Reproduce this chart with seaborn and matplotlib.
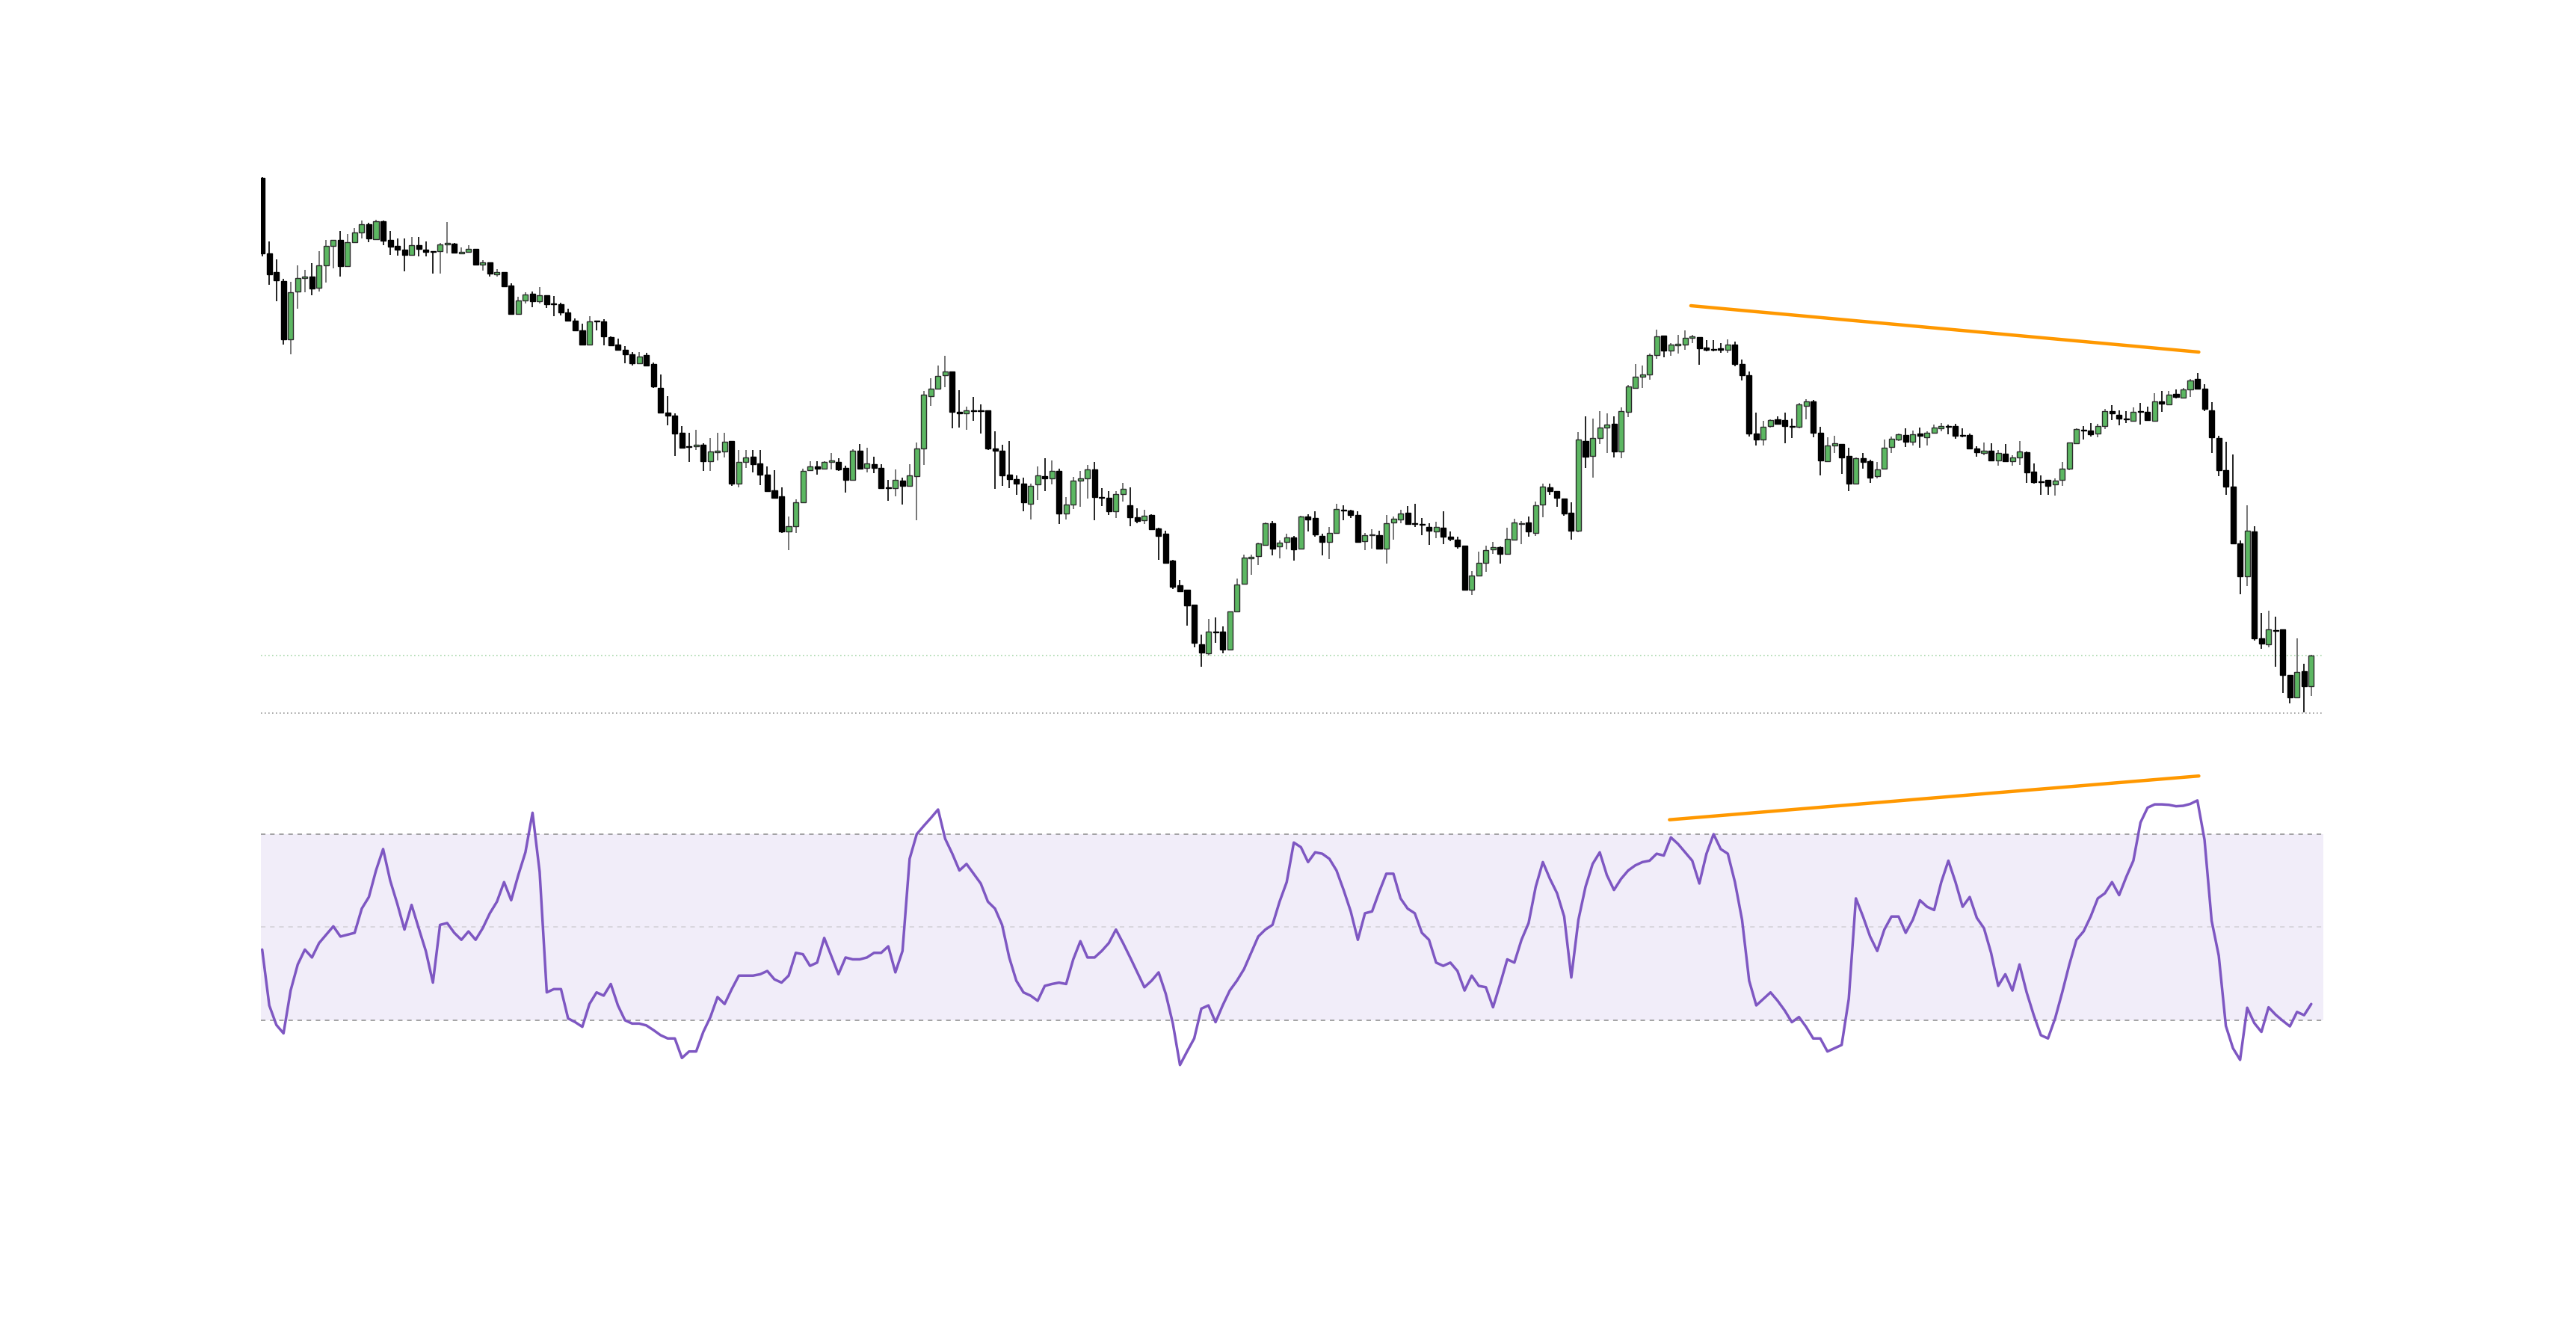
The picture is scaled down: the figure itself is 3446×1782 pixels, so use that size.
import numpy as np
import pandas as pd
import matplotlib
matplotlib.use("Agg")
import matplotlib.pyplot as plt
import seaborn as sns

# ---------------- data ----------------
opens = [76.17, 66.1, 63.57, 62.43, 54.6, 60.97, 62.77, 63.0, 61.53, 64.5,
         67.07, 67.9, 64.4, 67.57, 68.93, 70.0, 68.03, 70.43, 67.9, 67.07,
         66.57, 65.9, 67.17, 66.63, 66.4, 66.37, 67.27, 67.43, 66.1, 66.27,
         66.73, 64.6, 64.9, 63.27, 63.57, 61.77, 57.97, 59.83, 60.73, 59.73,
         60.5, 59.4, 59.33, 58.17, 57.1, 55.8, 53.93, 57.1, 57.03, 54.93,
         53.87, 53.23, 52.6, 51.4, 52.53, 51.33, 48.1, 44.83, 44.43, 42.07,
         40.27, 40.27, 40.53, 38.3, 39.5, 39.57, 41.0, 35.3, 38.17, 38.9,
         38.0, 36.5, 34.43, 33.6, 28.93, 29.6, 32.83, 37.07, 37.6, 37.27,
         38.17, 38.23, 37.4, 35.77, 39.67, 37.37, 37.87, 37.37, 34.8, 34.73,
         35.7, 34.97, 36.27, 40.0, 47.0, 48.03, 49.77, 50.3, 44.93, 44.67,
         45.13, 45.1, 45.1, 39.97, 39.67, 36.47, 35.87, 35.27, 32.57, 35.17,
         36.3, 35.97, 37.0, 31.27, 32.5, 35.67, 35.97, 37.17, 33.47, 33.37,
         31.63, 33.93, 32.43, 30.77, 30.37, 31.1, 29.33, 28.57, 24.97, 21.67,
         21.07, 19.07, 13.83, 12.57, 15.5, 15.5, 13.07, 18.23, 21.9, 25.27,
         25.63, 27.13, 30.03, 26.9, 27.47, 28.1, 26.6, 30.9, 30.67, 28.33,
         27.47, 28.73, 31.83, 31.67, 31.1, 27.57, 28.37, 28.37, 26.6, 30.13,
         30.47, 31.37, 30.0, 29.87, 29.53, 28.87, 29.43, 28.2, 27.77, 27.0,
         21.07, 22.97, 24.67, 26.53, 26.8, 25.9, 27.83, 29.87, 30.13, 28.73,
         32.5, 34.8, 34.3, 33.33, 31.4, 28.97, 41.0, 39.03, 41.43, 42.77,
         43.3, 39.63, 44.93, 48.13, 49.63, 49.87, 52.53, 55.1, 53.13, 53.77,
         53.9, 54.77, 54.93, 53.47, 53.33, 53.4, 53.23, 53.93, 51.27, 49.8,
         42.0, 41.2, 43.0, 43.87, 43.77, 43.0, 42.9, 45.73, 46.33, 42.13,
         38.33, 40.4, 40.63, 38.97, 35.27, 38.67, 38.33, 36.3, 37.27, 40.17,
         41.17, 41.77, 40.87, 42.03, 41.47, 42.13, 42.67, 43.03, 43.0, 41.83,
         41.83, 40.0, 39.4, 39.73, 38.43, 39.33, 38.33, 38.83, 39.5, 36.9,
         35.57, 35.77, 35.17, 35.77, 37.27, 40.7, 42.47, 42.4, 41.97, 43.0,
         45.03, 44.47, 44.0, 43.7, 44.97, 44.87, 43.7, 46.33, 45.93, 47.33,
         46.83, 47.93, 49.27, 48.03, 45.1, 41.4, 37.07, 34.9, 27.33, 22.87,
         28.93, 14.57, 13.83, 15.7, 15.77, 9.67, 6.67, 10.2, 8.17]

highs = [76.33, 67.67, 65.33, 62.67, 62.27, 64.53, 63.9, 64.77, 66.37, 67.9,
         67.9, 69.13, 68.67, 69.5, 70.53, 70.2, 70.6, 70.53, 69.07, 68.1,
         68.1, 68.27, 68.27, 67.7, 66.4, 67.53, 70.27, 67.5, 66.9, 67.2,
         66.73, 65.2, 64.9, 64.0, 63.57, 62.1, 60.33, 60.93, 61.0, 61.57,
         60.5, 60.4, 59.47, 58.67, 57.43, 56.67, 57.67, 57.1, 57.27, 55.0,
         54.67, 53.67, 52.9, 52.9, 52.77, 51.47, 49.9, 47.0, 44.67, 43.0,
         42.07, 42.47, 40.73, 41.37, 42.13, 42.13, 41.0, 39.77, 39.77, 39.77,
         39.77, 37.57, 37.07, 34.83, 30.93, 33.17, 37.33, 38.33, 38.27, 38.33,
         39.4, 38.7, 37.73, 39.93, 40.57, 40.1, 38.87, 37.87, 35.8, 37.2,
         36.13, 37.87, 40.8, 47.67, 49.37, 51.07, 52.37, 50.33, 47.77, 45.57,
         46.9, 45.9, 45.1, 42.33, 40.5, 40.97, 36.37, 36.07, 35.27, 37.57,
         38.67, 38.37, 37.33, 33.47, 36.2, 36.97, 37.8, 38.23, 34.73, 34.27,
         34.27, 35.37, 34.77, 31.97, 31.77, 31.17, 29.4, 29.0, 25.1, 22.4,
         21.07, 19.07, 15.07, 17.2, 17.37, 16.17, 18.23, 22.57, 25.83, 25.77,
         27.4, 30.07, 30.27, 27.73, 28.57, 28.27, 31.03, 31.17, 31.57, 28.6,
         29.47, 32.57, 32.43, 31.77, 31.57, 28.67, 29.17, 29.0, 31.1, 30.9,
         31.77, 32.27, 32.57, 30.7, 30.0, 30.17, 31.57, 28.9, 28.2, 27.0,
         23.57, 26.2, 26.97, 27.5, 26.9, 29.4, 30.6, 30.33, 30.93, 32.87,
         35.3, 35.3, 34.3, 33.33, 32.8, 42.17, 44.33, 44.0, 45.0, 44.7,
         44.33, 45.5, 48.47, 51.3, 51.1, 52.73, 55.9, 55.1, 54.07, 55.2,
         55.8, 55.23, 54.93, 54.5, 54.5, 54.1, 54.6, 54.27, 51.93, 50.27,
         44.77, 43.73, 43.9, 44.33, 44.77, 44.0, 46.07, 46.63, 46.53, 42.93,
         41.47, 41.67, 40.63, 40.1, 38.8, 39.4, 38.5, 38.17, 41.17, 41.6,
         42.0, 42.67, 42.4, 42.77, 42.33, 43.23, 43.4, 43.23, 43.33, 42.73,
         42.03, 40.27, 40.83, 40.73, 39.77, 40.57, 39.07, 40.97, 39.57, 37.97,
         36.4, 35.77, 36.0, 38.17, 40.83, 42.73, 42.97, 43.37, 43.27, 45.27,
         45.77, 45.07, 45.0, 45.47, 46.1, 45.6, 47.43, 47.67, 47.67, 47.9,
         48.07, 49.27, 50.1, 48.57, 46.2, 41.67, 40.9, 39.23, 27.73, 32.37,
         29.57, 18.0, 18.27, 17.53, 15.77, 9.67, 14.63, 11.2, 12.4]

lows = [65.73, 61.93, 59.73, 53.93, 52.6, 58.73, 60.93, 60.53, 61.03, 62.2,
        64.13, 62.97, 64.3, 67.47, 68.1, 67.63, 68.0, 67.23, 65.9, 65.8,
        63.67, 65.83, 65.73, 65.73, 63.43, 63.43, 66.07, 66.13, 66.07, 66.23,
        64.53, 63.77, 62.97, 62.97, 61.63, 57.97, 57.97, 59.43, 58.9, 59.43,
        58.83, 57.73, 57.77, 57.0, 55.73, 53.93, 53.77, 55.83, 53.83, 53.73,
        53.17, 51.4, 51.07, 51.33, 51.0, 48.1, 44.83, 43.07, 39.0, 40.07,
        38.23, 39.83, 37.0, 37.0, 38.43, 38.77, 35.0, 34.77, 37.43, 36.83,
        35.07, 34.27, 33.4, 28.67, 26.4, 28.67, 32.83, 37.0, 36.5, 37.23,
        37.17, 36.97, 34.1, 35.77, 37.27, 36.77, 36.73, 34.6, 33.0, 33.57,
        32.47, 34.97, 30.4, 37.83, 45.73, 48.0, 48.17, 42.73, 42.77, 42.47,
        43.67, 42.0, 39.8, 34.6, 35.0, 34.67, 33.8, 31.6, 30.53, 33.13,
        34.33, 35.23, 29.93, 30.53, 31.9, 32.23, 33.33, 30.37, 32.33, 31.07,
        30.73, 32.93, 29.6, 29.97, 29.93, 29.17, 25.07, 24.6, 21.17, 20.93,
        16.33, 13.43, 10.77, 12.33, 14.0, 12.57, 13.0, 18.17, 21.83, 23.07,
        24.4, 27.03, 25.73, 25.33, 26.47, 25.0, 26.5, 28.93, 28.17, 25.7,
        25.17, 28.67, 30.37, 30.67, 27.47, 26.4, 26.57, 26.47, 24.6, 27.8,
        30.0, 29.93, 29.47, 28.43, 27.07, 28.0, 27.17, 27.6, 26.57, 21.07,
        20.4, 22.97, 23.5, 25.93, 24.63, 25.83, 27.73, 27.17, 28.17, 28.27,
        30.8, 33.8, 32.23, 31.0, 27.83, 28.77, 37.43, 36.07, 40.57, 39.43,
        38.8, 38.73, 44.2, 48.07, 48.13, 49.23, 51.97, 52.23, 52.37, 52.7,
        53.23, 54.13, 51.17, 52.97, 52.97, 52.83, 52.83, 51.0, 49.13, 41.57,
        40.37, 40.37, 42.8, 43.33, 40.67, 41.4, 42.67, 43.9, 41.5, 36.43,
        38.33, 39.43, 36.63, 34.33, 35.27, 37.33, 35.4, 35.97, 37.27, 39.43,
        40.97, 40.17, 40.4, 40.07, 40.37, 42.07, 42.33, 41.93, 41.33, 41.53,
        39.9, 38.9, 39.07, 38.27, 37.67, 38.33, 37.73, 37.77, 35.4, 35.33,
        33.83, 33.77, 33.73, 35.0, 37.13, 40.67, 41.23, 41.57, 41.5, 42.57,
        43.83, 43.13, 43.43, 43.67, 43.23, 43.77, 43.67, 44.9, 45.8, 46.67,
        46.67, 46.93, 48.0, 44.97, 39.43, 36.33, 33.8, 27.17, 20.5, 21.57,
        14.27, 13.17, 13.43, 10.83, 7.27, 5.93, 6.67, 4.67, 6.93]

closes = [66.1, 63.33, 62.47, 54.6, 60.9, 62.77, 63.0, 61.43, 64.5, 67.07,
          67.9, 64.4, 67.6, 68.93, 69.97, 68.1, 70.4, 67.83, 66.97, 66.63,
          65.9, 67.17, 66.7, 66.27, 66.27, 67.27, 67.5, 66.23, 66.27, 66.73,
          64.57, 64.87, 63.43, 63.57, 61.73, 57.97, 59.83, 60.63, 59.73, 60.5,
          59.3, 59.33, 58.17, 57.1, 55.8, 53.93, 57.0, 57.03, 55.0, 53.77,
          53.23, 52.6, 51.43, 52.33, 51.1, 48.27, 44.83, 44.43, 42.0, 40.13,
          40.17, 40.53, 38.3, 39.57, 39.67, 40.9, 35.3, 38.17, 38.77, 37.9,
          36.5, 34.33, 33.43, 28.93, 29.6, 32.83, 37.0, 37.6, 37.27, 38.17,
          38.37, 37.23, 35.77, 39.67, 37.27, 37.97, 37.37, 34.73, 34.73, 35.77,
          34.97, 36.37, 40.0, 47.17, 48.03, 49.7, 50.3, 44.93, 44.67, 45.1,
          45.03, 45.03, 39.97, 39.67, 36.37, 35.87, 35.27, 32.77, 34.97, 36.37,
          36.03, 37.0, 31.27, 32.5, 35.7, 35.97, 37.17, 33.47, 33.37, 31.63,
          33.93, 34.63, 30.77, 30.3, 31.0, 29.23, 28.33, 24.73, 21.53, 20.93,
          19.0, 14.0, 12.67, 15.47, 15.43, 13.1, 18.23, 21.77, 25.37, 25.53,
          27.3, 29.97, 26.6, 27.4, 28.1, 26.5, 30.93, 30.5, 28.53, 27.47,
          28.7, 31.87, 31.73, 31.1, 27.47, 28.37, 28.53, 26.6, 30.03, 30.57,
          31.27, 29.93, 29.9, 29.77, 28.97, 29.53, 28.2, 27.93, 26.93, 21.07,
          22.97, 24.67, 26.43, 26.77, 25.9, 27.93, 30.07, 30.03, 28.87, 32.43,
          34.9, 34.3, 33.4, 31.27, 28.97, 41.17, 38.93, 41.43, 42.77, 43.17,
          39.63, 45.03, 48.3, 49.63, 49.9, 52.53, 55.0, 53.13, 53.87, 53.97,
          54.77, 55.0, 53.4, 53.2, 53.17, 53.23, 53.93, 51.33, 49.8, 42.0,
          41.2, 42.9, 43.77, 43.33, 43.0, 42.9, 45.9, 46.33, 42.13, 38.43,
          40.37, 40.73, 38.83, 35.3, 38.7, 38.23, 36.13, 37.23, 40.07, 41.27,
          41.87, 40.87, 41.93, 41.67, 42.13, 42.77, 43.0, 42.93, 41.73, 41.73,
          39.97, 39.5, 39.73, 38.4, 39.37, 38.33, 38.83, 39.57, 36.77, 35.5,
          35.47, 35.0, 35.73, 37.27, 40.77, 42.57, 42.4, 41.87, 43.0, 45.03,
          44.67, 43.97, 43.87, 44.93, 44.9, 43.8, 46.33, 46.0, 47.23, 46.93,
          47.93, 49.07, 48.0, 45.27, 41.47, 37.07, 34.93, 27.27, 22.87, 29.0,
          14.6, 13.93, 15.77, 15.63, 9.67, 6.67, 10.1, 8.17, 12.27]

rsi = [45.2, 33.2, 29, 27.2, 36.4, 42, 45.2, 43.5, 46.6, 48.4,
       50.2, 48, 48.4, 48.8, 54, 56.5, 62.2, 66.8, 60, 55,
       49.5, 54.8, 49.8, 44.9, 38.1, 50.5, 50.9, 48.8, 47.3, 49.1,
       47.3, 49.8, 53, 55.5, 59.7, 55.8, 61.2, 66.1, 74.6, 61.9,
       36.0, 36.7, 36.7, 30.4, 29.6, 28.6, 33.5, 36, 35.3, 37.8,
       33.2, 30,
       29.3, 29.3, 28.9, 27.9, 26.8, 26.1, 26.1, 21.9, 23.3, 23.3,
       27.5, 30.7, 35, 33.5, 36.7, 39.6, 39.6, 39.6, 39.9, 40.6,
       38.8, 38.1, 39.6, 44.5, 44.2, 41.7, 42.4, 47.7, 43.8, 39.9,
       43.5, 43.1, 43.1, 43.5, 44.5, 44.5, 45.9, 40.3, 44.9, 64.7,
       70, 71.8, 73.5, 75.3, 69, 65.8, 62.2, 63.6, 61.5, 59.4,
       55.5, 54, 50.5, 43.5, 38.5, 36, 35.3, 34.2, 37.4, 37.8,
       38.1, 37.8, 43.1, 47, 43.5, 43.5, 44.9, 46.6, 49.5, 46.6,
       43.5, 40.3, 37.1, 38.5, 40.3, 35.7, 29.3, 20.4, 23.3, 26.1,
       32.5, 33.2, 29.6, 33.2, 36.4, 38.5, 41, 44.5, 48, 49.5,
       50.5, 55.5, 59.7, 68.2, 67.2, 64, 66.1, 65.8, 64.7, 62.2,
       58, 53.4, 47.3, 53, 53.4, 57.6, 61.5, 61.5, 56.2, 54,
       53, 48.8, 47.3, 42.4, 41.7, 42.4, 40.6, 36.4, 39.6, 37.4,
       37.1, 32.8, 37.8, 43.1, 42.4, 47.3, 50.9, 58.7, 64, 60.4,
       57.3, 52.3, 39.2, 51.6, 58.7, 63.6, 66.1, 61.2, 58, 60.4,
       62.2, 63.3, 64, 64.3, 65.8, 65.4, 69.3, 67.9, 66.1, 64.3,
       59.4, 65.8, 70, 66.8, 65.8, 59.7, 51.6, 38.5, 33.2, 34.6,
       36, 34.2, 32.1, 29.6, 30.7, 28.6, 26.1, 26.1, 23.3, 24,
       24.7, 34.6, 56.2, 52.3, 48, 44.9, 49.5, 52.3, 52.3, 48.8,
       51.6, 55.8, 54.4, 53.7, 59.7, 64.3, 59.7, 54.4, 56.5, 52,
       49.8, 44.5, 37.4, 39.9, 36.4, 42, 36, 31.1, 26.8, 26.1,
       30.4, 36, 42, 47.3, 49.1, 52.3, 56.2, 57.3, 59.7, 56.9,
       60.8, 64.3, 72.5, 75.7, 76.4, 76.4,
       76.3, 76.0, 76.1, 76.5, 77.25, 68.8, 51.4, 43.9, 28.8, 24.0,
       21.5, 32.7, 29.4, 27.5, 32.8, 31.2, 29.9, 28.7, 31.8, 31.1, 33.5]

# divergence lines (candle index, value)
price_div_x = [200.8, 272.2]
price_div_y = [59.1, 52.9]
rsi_div_x = [197.8, 272.2]
rsi_div_y = [73.1, 82.5]

last_price_level = 12.27
low_level = 4.6
rsi_upper, rsi_mid, rsi_lower = 70, 50, 30

# ---------------- figure ----------------
sns.set_theme(style="white")
W, H = 3446, 1782
fig = plt.figure(figsize=(W / 100, H / 100), dpi=100)
fig.patch.set_facecolor("white")

left = 348.8 / W
width = (3108 - 348.8) / W
ax_p = fig.add_axes([left, 1 - 964 / H, width, (964 - 100) / H])
ax_r = fig.add_axes([left, 1 - 1460 / H, width, 460 / H])

n = len(closes)
df = pd.DataFrame({"idx": np.arange(n), "open": opens, "high": highs,
                   "low": lows, "close": closes})
df["up"] = df["close"] >= df["open"]

GREEN = "#5cb762"
for up, sub in df.groupby("up"):
    wick_col = "#6b6b6b" if up else "#111111"
    ax_p.vlines(sub["idx"], sub["low"], sub["high"], color=wick_col,
                linewidth=1.3, zorder=2)
    bottom = np.minimum(sub["open"], sub["close"])
    height = np.maximum(np.abs(sub["close"] - sub["open"]), 0.12)
    ax_p.bar(sub["idx"], height, bottom=bottom, width=0.74,
             color=GREEN if up else "#000000",
             edgecolor="#2b2b2b" if up else "#000000",
             linewidth=1.0, zorder=3)

ax_p.axhline(last_price_level, color="#a8d8ab", linestyle=(0, (1, 2)),
             linewidth=1.2, zorder=1)
ax_p.axhline(low_level, color="#9a9a9a", linestyle=(0, (1, 2)),
             linewidth=1.2, zorder=1)
sns.lineplot(x=price_div_x, y=price_div_y, ax=ax_p, color="#ff9800",
             linewidth=3.2, solid_capstyle="round", zorder=4)

ax_p.set_xlim(-0.2, 289.7)
ax_p.set_ylim(3.6, 90)

# RSI panel
ax_r.axhspan(rsi_lower, rsi_upper, color="#f1edf9", zorder=0, linewidth=0)
ax_r.axhline(rsi_upper, color="#8c8c8c", linestyle=(0, (4, 4)), linewidth=1.1)
ax_r.axhline(rsi_lower, color="#8c8c8c", linestyle=(0, (4, 4)), linewidth=1.1)
ax_r.axhline(rsi_mid, color="#d2d0d6", linestyle=(0, (4, 4)), linewidth=1.1)
sns.lineplot(x=np.arange(len(rsi)), y=rsi, ax=ax_r, color="#7e57c2",
             linewidth=2.5, zorder=3)
sns.lineplot(x=rsi_div_x, y=rsi_div_y, ax=ax_r, color="#ff9800",
             linewidth=3.2, solid_capstyle="round", zorder=4)
ax_r.set_xlim(-0.2, 289.7)
ax_r.set_ylim(14.74, 88.63)

for ax in (ax_p, ax_r):
    ax.set_xticks([])
    ax.set_yticks([])
    ax.set_xlabel("")
    ax.set_ylabel("")
    ax.set_facecolor("none")
    for s in ax.spines.values():
        s.set_visible(False)
    leg = ax.get_legend()
    if leg is not None:
        leg.remove()

fig.savefig("out.png", dpi=100, facecolor="white")
